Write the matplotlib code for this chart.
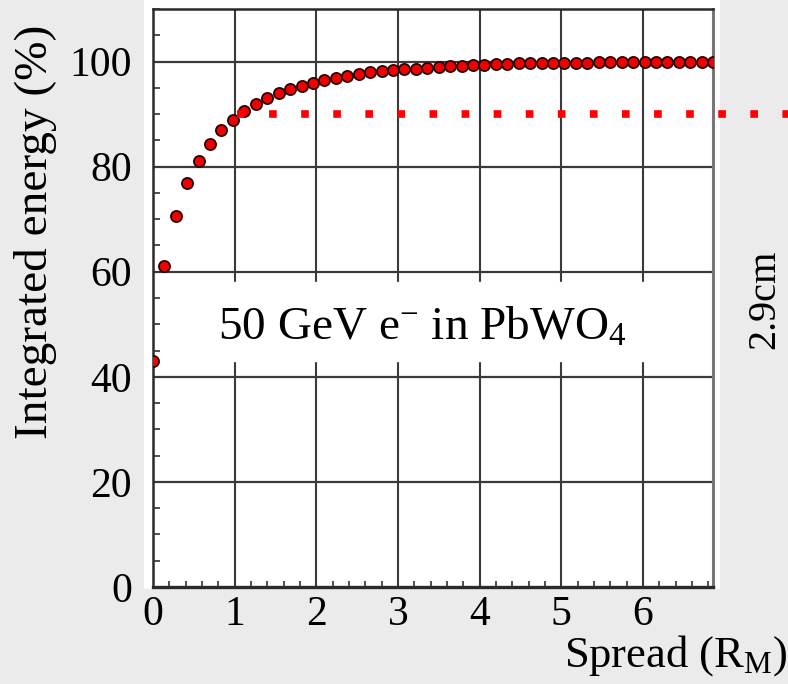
import numpy as np
import matplotlib
matplotlib.use('Agg')
import matplotlib.pyplot as plt
from matplotlib.patches import Rectangle

# spread in Moliere radii, one point every 0.14 R_M
spread = [0.00, 0.14, 0.28, 0.42, 0.56, 0.70, 0.84, 0.98, 1.12, 1.26,
          1.40, 1.54, 1.68, 1.82, 1.96, 2.10, 2.24, 2.38, 2.52, 2.66,
          2.80, 2.94, 3.08, 3.22, 3.36, 3.50, 3.64, 3.78, 3.92, 4.06,
          4.20, 4.34, 4.48, 4.62, 4.76, 4.90, 5.04, 5.18, 5.32, 5.46,
          5.60, 5.74, 5.88, 6.02, 6.16, 6.30, 6.44, 6.58, 6.72, 6.86]
# integrated energy (%)
energy = [43.0, 61.0, 70.7, 76.9, 81.1, 84.3, 87.0, 88.9, 90.5, 91.9,
          93.1, 94.0, 94.8, 95.4, 95.9, 96.4, 96.9, 97.3, 97.7, 98.0,
          98.2, 98.35, 98.5, 98.6, 98.8, 99.0, 99.1, 99.2, 99.35, 99.4,
          99.5, 99.6, 99.65, 99.7, 99.7, 99.75, 99.8, 99.8, 99.8, 99.85,
          99.85, 99.9, 99.9, 99.9, 99.9, 99.95, 99.95, 99.95, 100.0, 100.0]

x_ticks = [0, 1, 2, 3, 4, 5, 6]
y_ticks = [0, 20, 40, 60, 80, 100]

containment = 90      # 90% level (dotted red line)
containment_from = 1.03

SERIF = 'Liberation Serif'


def plot_spread():
    plt.rcParams['font.family'] = SERIF
    plt.rcParams['mathtext.fontset'] = 'custom'
    plt.rcParams['mathtext.rm'] = SERIF
    plt.rcParams['mathtext.it'] = SERIF + ':italic'

    fig = plt.figure(figsize=(7.88, 6.84), dpi=100, facecolor='#ebebeb')

    # white panel behind the plot
    fig.patches.append(Rectangle((0.1827, 0.139), 0.731, 0.861,
                                 transform=fig.transFigure,
                                 facecolor='white', edgecolor='none', zorder=-1))

    ax = fig.add_axes([0.194, 0.1418, 0.711, 0.845])
    ax.set_facecolor('white')
    ax.set_xlim(0, 6.86)
    ax.set_ylim(0, 110)

    # grid by hand so the label box can sit on top of it
    for y in y_ticks[1:]:
        ax.axhline(y, color='#3a3a3a', lw=1.6, zorder=1)
    for x in x_ticks[1:]:
        ax.axvline(x, color='#3a3a3a', lw=1.5, zorder=1)
    ax.axhspan(43, 58, color='white', zorder=1.6)

    ax.plot(spread, energy, 'o', color='#f00000', markeredgecolor='#2a0000',
            markeredgewidth=1.3, markersize=8, zorder=3, clip_on=True)

    ax.plot([containment_from, 7.8], [containment, containment],
            color='red', lw=5.5, linestyle=(0, (1, 3.2)),
            clip_on=False, zorder=4)

    ax.set_axisbelow(False)
    ax.set_xticks(x_ticks)
    ax.set_yticks(y_ticks)
    ax.set_xticks(np.arange(0, 6.9, 0.2), minor=True)
    ax.set_yticks(np.arange(0, 111, 5), minor=True)
    ax.tick_params(which='major', length=0)
    ax.tick_params(axis='y', which='major', pad=15, labelsize=30)
    ax.tick_params(axis='x', which='major', pad=6, labelsize=30)
    ax.tick_params(which='minor', direction='in', color='#333333', width=1.2)
    ax.tick_params(axis='y', which='minor', length=5)
    ax.tick_params(axis='x', which='minor', length=4)

    for side in ['left', 'bottom', 'top']:
        ax.spines[side].set_color('#2a2a2a')
        ax.spines[side].set_linewidth(1.8)
    ax.spines['bottom'].set_linewidth(2.4)
    ax.spines['right'].set_color('#777777')
    ax.spines['right'].set_linewidth(2.2)

    fig.text(36 / 788, 1 - 232 / 684, 'Integrated energy (%)', rotation=90,
             ha='center', va='center', fontsize=34)
    fig.text(787 / 788, 1 - 667 / 684, r'Spread (R$_\mathrm{M}$)',
             ha='right', va='baseline', fontsize=32)
    fig.text(218 / 788, 1 - 340 / 684, r'50 GeV e$^{\mathrm{-}}$ in PbWO$_{4}$',
             ha='left', va='baseline', fontsize=34)
    fig.text(765 / 788, 1 - 299 / 684, '2.9cm', rotation=90,
             ha='center', va='center', fontsize=29)

    fig.savefig('out.png', dpi=100, facecolor=fig.get_facecolor())


if __name__ == '__main__':
    plot_spread()
